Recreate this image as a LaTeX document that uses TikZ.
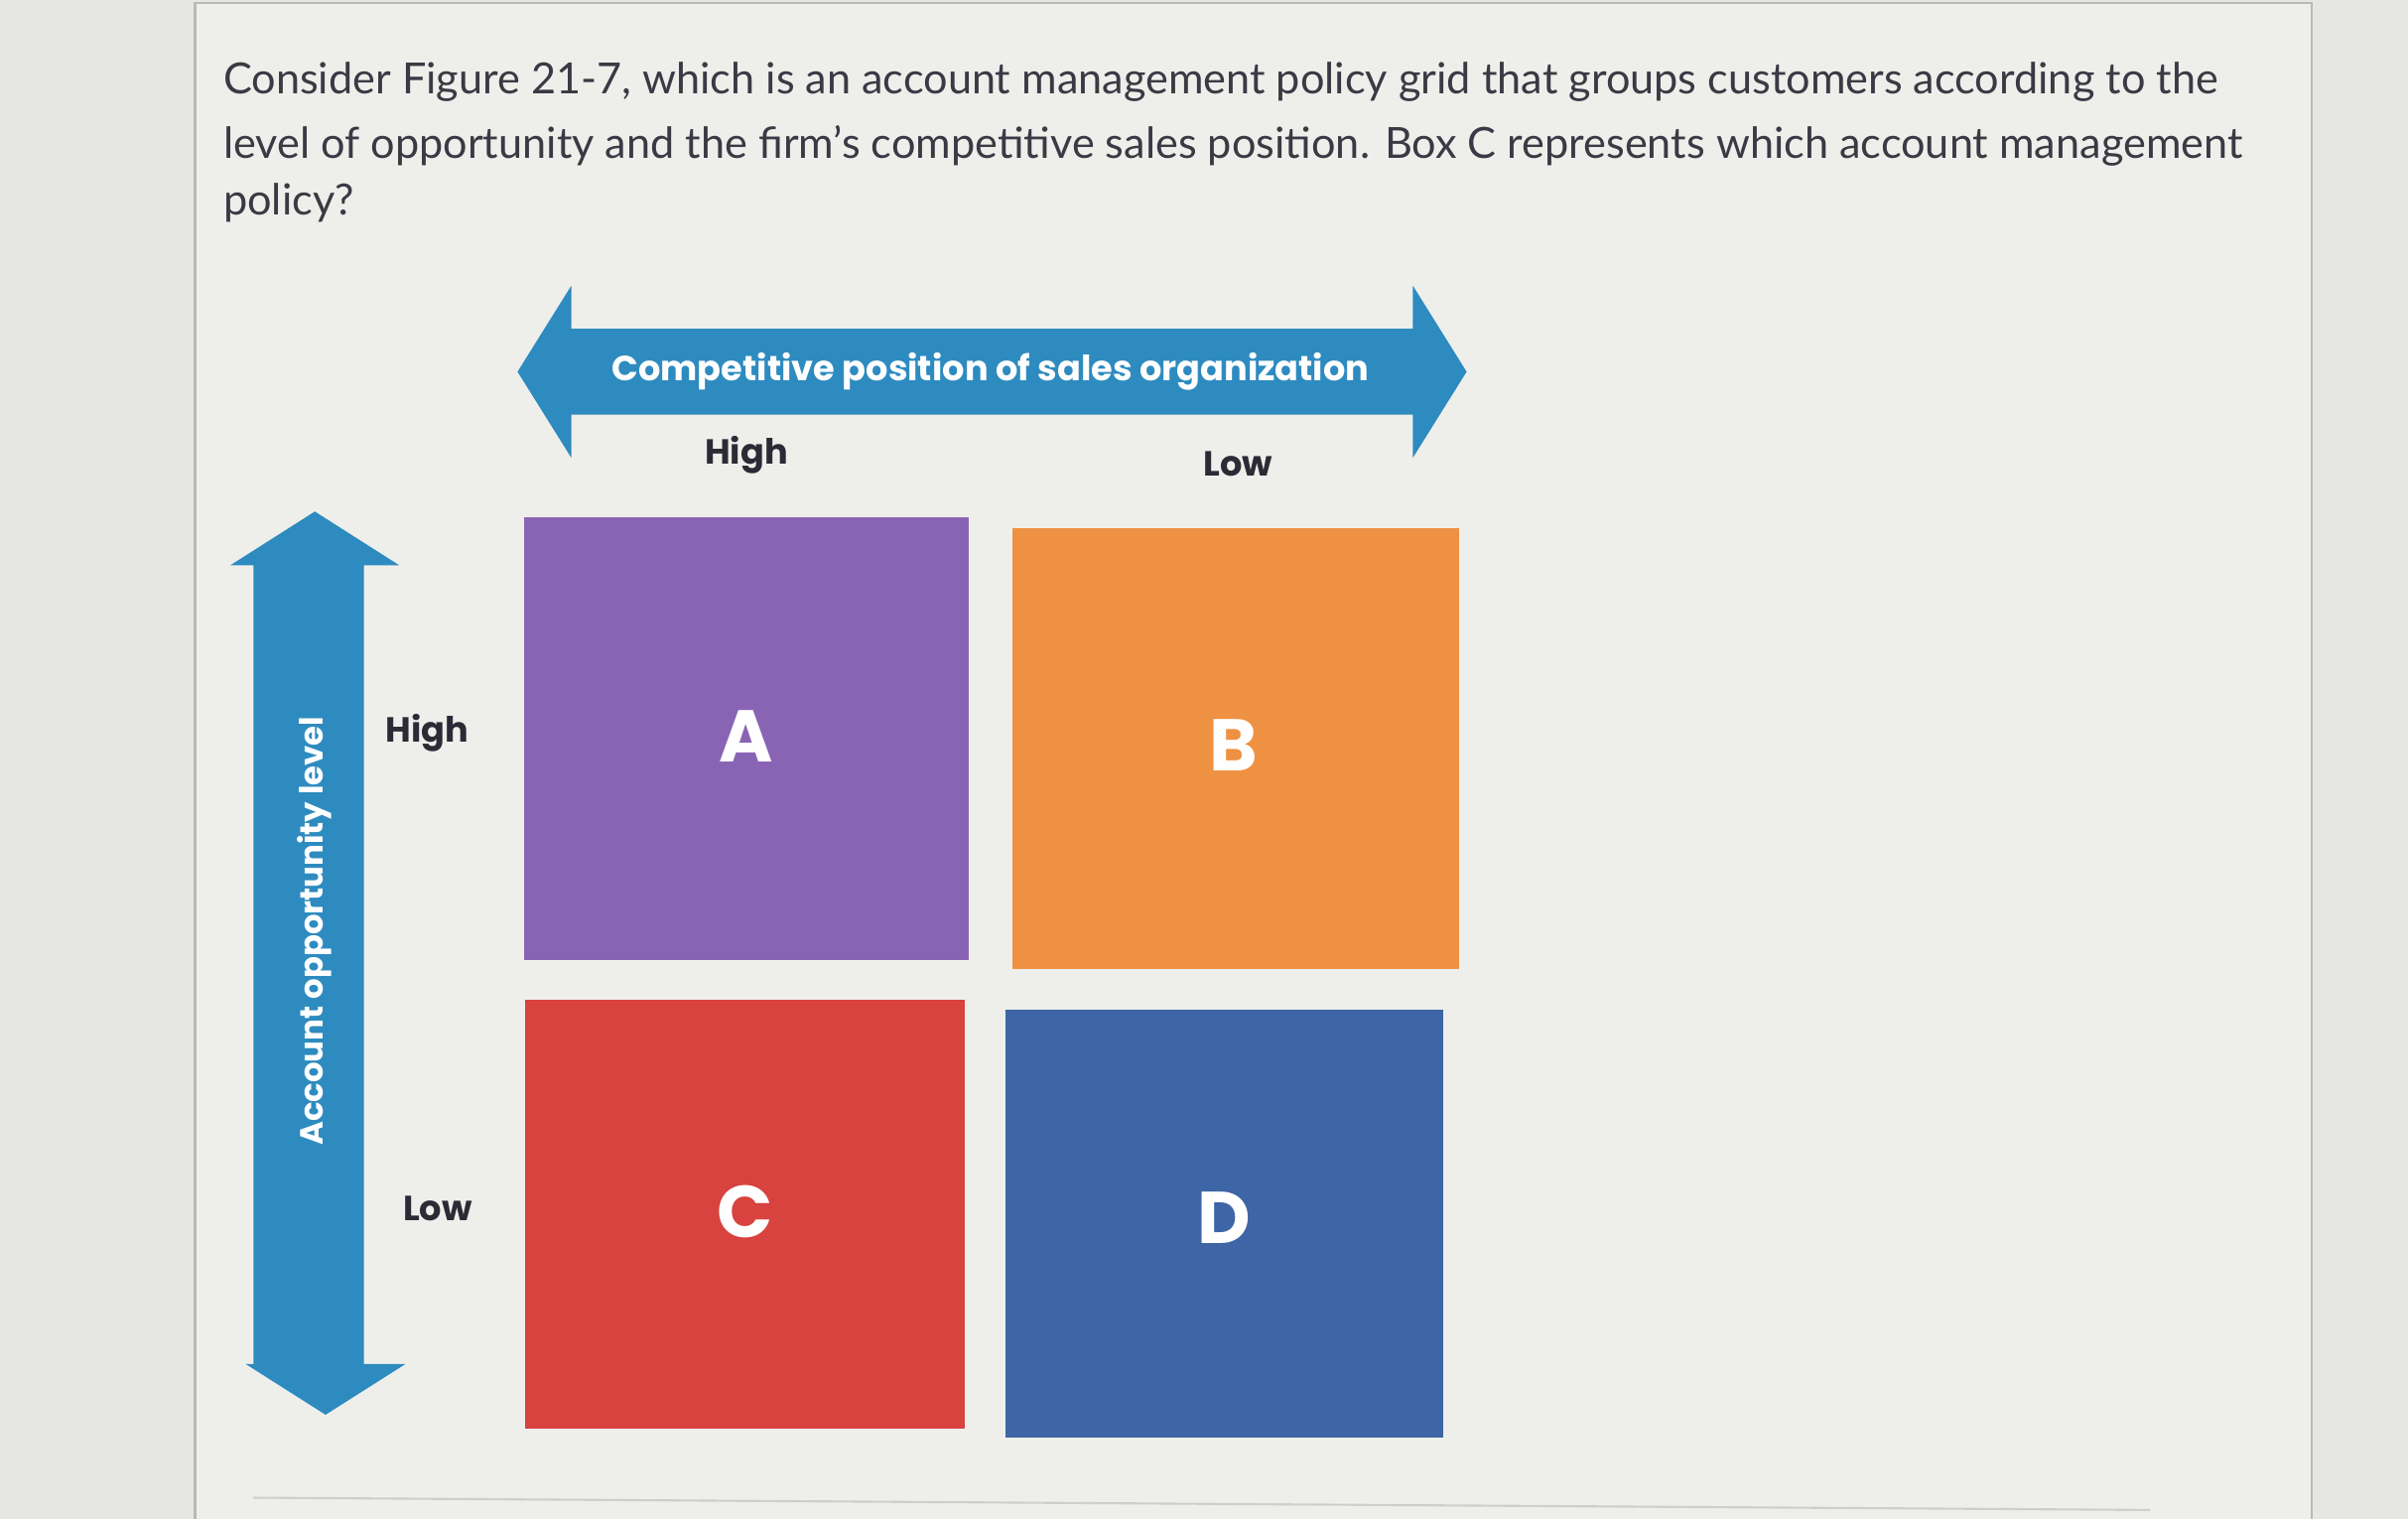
\documentclass[tikz,border=0pt]{standalone}
\usepackage{fontspec}
\setmainfont{Lato}
\newfontfamily\figfont{Poppins}
\usetikzlibrary{fit}
\definecolor{pagebg}{HTML}{E6E7E3}
\definecolor{cardbg}{HTML}{EEEFEB}
\definecolor{cardline}{HTML}{B9BAB6}
\definecolor{qcol}{HTML}{3A3A44}
\definecolor{labcol}{HTML}{2B2B36}
\definecolor{arrowblue}{HTML}{2E8BC0}
\definecolor{cpurple}{HTML}{8A64B4}
\definecolor{corange}{HTML}{EE9142}
\definecolor{cred}{HTML}{D8423F}
\definecolor{cblue}{HTML}{3E65A5}
\tikzset{
  qtext/.style={anchor=base west, inner sep=0pt, text=qcol, font=\fontsize{12.3}{15}\selectfont},
  axlab/.style={inner sep=0pt, text=labcol, font=\figfont\bfseries\fontsize{10}{12}\selectfont},
  axtitle/.style={inner sep=0pt, text=white, font=\figfont\bfseries\fontsize{10}{12}\selectfont},
  vtitlestyle/.style={inner sep=0pt, text=white, font=\figfont\bfseries\fontsize{9.2}{11}\selectfont},
  cellbox/.style={inner sep=0pt, draw=none},
  letter/.style={inner sep=0pt, text=white, font=\figfont\bfseries\fontsize{21}{24}\selectfont},
  arrowshape/.style={fill=arrowblue, draw=none}
}
\begin{document}
\begin{tikzpicture}[x=0.01547cm,y=-0.01547cm]
\useasboundingbox (0,0) rectangle (1568,989);
% page and card
\fill[pagebg] (0,0) rectangle (1568,989);
\fill[cardbg] (127,2) rectangle (1505,989);
\draw[cardline, line width=0.6pt] (127,989) -- (127,2) -- (1505,2) -- (1505,989);
\draw[cardline!70, line width=0.6pt] (165,975) -- (1400,983);
% question text
\node[qtext] (q1) at (145,61) {Consider Figure 21-7, which is an account management policy grid that groups customers according to the};
\node[qtext] (q2) at (145,103) {level of opportunity and the firm's competitive sales position. Box C represents which account management};
\node[qtext] (q3) at (145,140) {policy?};
% horizontal double arrow
\fill[arrowshape] (337,242) -- (372,186) -- (372,214) -- (920,214) -- (920,186)
  -- (955,242) -- (920,298) -- (920,270) -- (372,270) -- (372,298) -- cycle;
\node[axtitle] (htitle) at (645,242) {Competitive position of sales organization};
\node[axlab] (hhigh) at (486,296) {High};
\node[axlab] (hlow) at (806,302) {Low};
% vertical double arrow
\fill[arrowshape] (205,333) -- (260,368) -- (237,368) -- (237,888) -- (264,888)
  -- (212,921) -- (160,888) -- (165,888) -- (165,368) -- (150,368) -- cycle;
\node[vtitlestyle, rotate=90] (vtitle) at (205,606) {Account opportunity level};
\node[axlab] (vhigh) at (278,477) {High};
\node[axlab] (vlow) at (285,787) {Low};
% grid boxes
\node[cellbox, fill=cpurple, fit={(341,337) (631,625)}] (boxA) {};
\node[cellbox, fill=corange, fit={(659,344) (950,631)}] (boxB) {};
\node[cellbox, fill=cred, fit={(342,651) (628,930)}] (boxC) {};
\node[cellbox, fill=cblue, fit={(655,657) (940,936)}] (boxD) {};
\node[letter] (lA) at (486,479) {A};
\node[letter] (lB) at (803,485) {B};
\node[letter] (lC) at (485,789) {C};
\node[letter] (lD) at (797,793) {D};
\end{tikzpicture}
\end{document}
